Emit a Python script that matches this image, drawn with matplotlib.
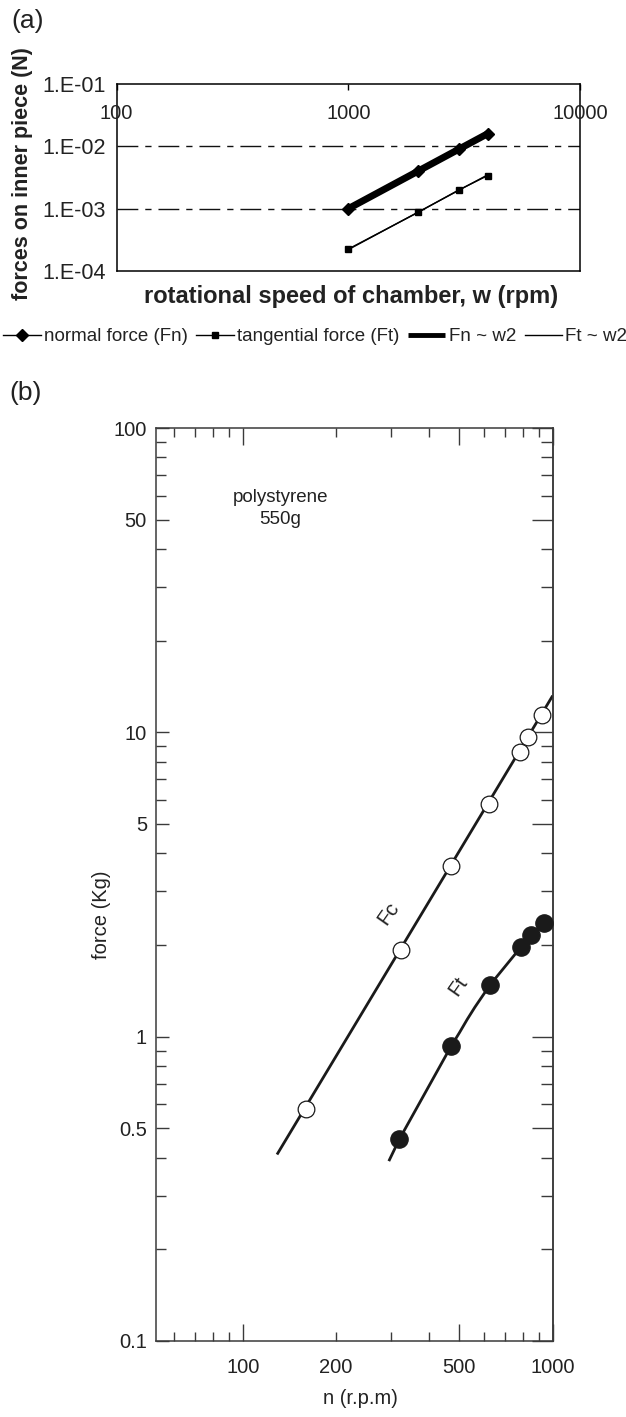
import matplotlib
matplotlib.use("Agg")
import matplotlib.pyplot as plt
from matplotlib.ticker import FixedLocator, FuncFormatter, NullLocator, NullFormatter

plt.rcParams["font.family"] = ["Liberation Sans", "DejaVu Sans"]

# ---------------- panel (a): forces vs chamber speed ----------------
w_rpm = [1000, 2000, 3000, 4000]
fn_measured = [1.0e-3, 4.0e-3, 9.0e-3, 1.6e-2]
ft_measured = [2.25e-4, 8.7e-4, 2.0e-3, 3.4e-3]
fn_fit = [1.0e-3, 4.0e-3, 9.0e-3, 1.6e-2]
ft_fit = [2.2e-4, 8.8e-4, 1.97e-3, 3.5e-3]
a_xticks = [100, 1000, 10000]
a_xtick_labels = ["100", "1000", "10000"]
a_yticks = [1e-4, 1e-3, 1e-2, 1e-1]
a_ytick_labels = ["1.E-04", "1.E-03", "1.E-02", "1.E-01"]
a_grid_levels = [1e-3, 1e-2]
a_legend = ["normal force (Fn)", "tangential force (Ft)", "Fn ~ w2", "Ft ~ w2"]

# ---------------- panel (b): polystyrene 550 g ----------------
fc_n = [160, 323, 470, 622, 785, 835, 922]
fc_force = [0.58, 1.93, 3.63, 5.83, 8.64, 9.66, 11.4]
ft_n = [320, 470, 628, 790, 850, 938]
ft_force = [0.46, 0.93, 1.48, 1.97, 2.16, 2.36]
fc_curve_n = [129, 1000]
fc_curve_force = [0.41, 13.2]
ft_curve_n = [296, 320, 470, 500, 530, 561, 628, 790, 850, 938]
ft_curve_force = [0.39, 0.46, 0.93, 1.03, 1.14, 1.25, 1.48, 1.97, 2.16, 2.36]
b_xticks_major = [100, 500, 1000]
b_xticks_minor = [60, 70, 80, 90, 200, 300, 400, 600, 700, 800, 900]
b_xtick_labels = {100: "100", 200: "200", 500: "500", 1000: "1000"}
b_yticks_major = [0.1, 0.5, 1, 5, 10, 50, 100]
b_ytick_labels = ["0.1", "0.5", "1", "5", "10", "50", "100"]
b_yticks_minor = [0.2, 0.3, 0.4, 0.6, 0.7, 0.8, 0.9, 2, 3, 4, 6, 7, 8, 9,
                  20, 30, 40, 60, 70, 80, 90]

W, H = 626, 1417
fig = plt.figure(figsize=(W / 100, H / 100), dpi=100)
ink = "#1a1a1a"
txt = "#222222"
frame = "#3a3a3a"


def fx(px):
    return px / W


def fy(py):
    return 1 - py / H


def pick_label(values, labels):
    def fmt(v, pos):
        i = min(range(len(values)), key=lambda k: abs(values[k] / v - 1))
        return labels[i]
    return FuncFormatter(fmt)


# ======================= panel (a) =======================
ax1 = fig.add_axes([fx(116.6), fy(271), (580 - 116.6) / W, (271 - 84) / H])
ax1.set_xscale("log")
ax1.set_yscale("log")
ax1.set_xlim(100, 10000)
ax1.set_ylim(1e-4, 1e-1)

for lvl in a_grid_levels:
    ax1.axhline(lvl, color="#111111", lw=1.0, linestyle=(0, (15, 5, 4.5, 5)), zorder=1)

l_fn, = ax1.plot(w_rpm, fn_measured, color="black", lw=1.0, marker="D", ms=6.5,
                 mfc="black", mec="black", zorder=3)
l_ft, = ax1.plot(w_rpm, ft_measured, color="black", lw=1.0, marker="s", ms=5,
                 mfc="black", mec="black", zorder=3)
l_fnfit, = ax1.plot(w_rpm, fn_fit, color="black", lw=5, solid_capstyle="butt", zorder=4)
l_ftfit, = ax1.plot(w_rpm, ft_fit, color="black", lw=1.0, zorder=4)

for s in ax1.spines.values():
    s.set_color("black")
    s.set_linewidth(1.1)

ax1.yaxis.set_major_locator(FixedLocator(a_yticks))
ax1.yaxis.set_major_formatter(pick_label(a_yticks, a_ytick_labels))
ax1.yaxis.set_minor_locator(NullLocator())
ax1.tick_params(axis="y", length=0, pad=8.0, labelsize=15.5, labelcolor=txt)

ax1.xaxis.set_major_locator(FixedLocator(a_xticks))
ax1.xaxis.set_minor_locator(NullLocator())
ax1.xaxis.set_ticks_position("top")
ax1.tick_params(axis="x", direction="in", length=4, width=1, labeltop=False,
                labelbottom=False)
for xv, lab in zip(a_xticks, a_xtick_labels):
    ax1.text(xv, 0.843, lab, transform=ax1.get_xaxis_transform(), ha="center",
             va="center", fontsize=14.5, color=txt)

fig.text(fx(351), fy(296.7), "rotational speed of chamber, w (rpm)", ha="center",
         va="center", fontsize=17, fontweight="bold", color=txt)
fig.text(fx(23), fy(173.4), "forces on inner piece (N)", ha="center", va="center",
         rotation=90, fontsize=15.5, fontweight="bold", color=txt)

leg = fig.legend([l_fn, l_ft, l_fnfit, l_ftfit], a_legend, ncol=4, frameon=False,
                 loc="center left", bbox_to_anchor=(fx(3), fy(336.7)),
                 bbox_transform=fig.transFigure, fontsize=13.5, handlelength=2.0,
                 handletextpad=0.18, columnspacing=0.45, borderpad=0,
                 borderaxespad=0, numpoints=1, labelcolor=txt)
leg.legend_handles[2].set_linewidth(3.5)

fig.text(fx(27.5), fy(21), "(a)", ha="center", va="center", fontsize=19, color=txt)
fig.text(fx(26), fy(393), "(b)", ha="center", va="center", fontsize=19, color=txt)

# ======================= panel (b) =======================
ax2 = fig.add_axes([fx(156), fy(1341), (552.7 - 156) / W, (1341 - 428) / H])
ax2.set_xscale("log")
ax2.set_yscale("log")
ax2.set_xlim(52.5, 1000)
ax2.set_ylim(0.1, 100)

ax2.plot(fc_curve_n, fc_curve_force, color=ink, lw=2.0, solid_capstyle="butt", zorder=2)
ax2.plot(ft_curve_n, ft_curve_force, color=ink, lw=2.0, solid_capstyle="butt", zorder=2)
ax2.plot(fc_n, fc_force, linestyle="none", marker="o", ms=12, mfc="white", mec=ink,
         mew=0.9, zorder=3, clip_on=False)
ax2.plot(ft_n, ft_force, linestyle="none", marker="o", ms=12.5, mfc=ink, mec=ink,
         mew=0.9, zorder=3, clip_on=False)

for s in ax2.spines.values():
    s.set_color(frame)
    s.set_linewidth(1.1)

ax2.xaxis.set_major_locator(FixedLocator(b_xticks_major))
ax2.xaxis.set_minor_locator(FixedLocator(b_xticks_minor))
ax2.xaxis.set_major_formatter(FuncFormatter(
    lambda v, p: b_xtick_labels.get(int(round(v)), "")))
ax2.xaxis.set_minor_formatter(FuncFormatter(
    lambda v, p: b_xtick_labels.get(int(round(v)), "")))
ax2.yaxis.set_major_locator(FixedLocator(b_yticks_major))
ax2.yaxis.set_major_formatter(pick_label(b_yticks_major, b_ytick_labels))
ax2.yaxis.set_minor_locator(FixedLocator(b_yticks_minor))
ax2.yaxis.set_minor_formatter(NullFormatter())

ax2.tick_params(which="both", direction="in", top=True, right=False, color=frame,
                width=1.0, labelsize=14.5, labelcolor=txt)
ax2.tick_params(axis="x", which="major", length=12, pad=12)
ax2.tick_params(axis="x", which="minor", length=6.8, pad=12)
ax2.tick_params(axis="y", which="major", length=9.5, pad=6.5)
ax2.tick_params(axis="y", which="minor", length=7)

# right-hand scale carries longer tick marks than the left one
rax = ax2.secondary_yaxis("right")
rax.yaxis.set_major_locator(FixedLocator(b_yticks_major))
rax.yaxis.set_minor_locator(FixedLocator(b_yticks_minor))
rax.yaxis.set_major_formatter(NullFormatter())
rax.yaxis.set_minor_formatter(NullFormatter())
rax.tick_params(which="both", direction="in", color=frame, width=1.0)
rax.tick_params(which="major", length=15)
rax.tick_params(which="minor", length=9)
rax.spines["right"].set_color(frame)
rax.spines["right"].set_linewidth(1.1)

ax2.text(132, 59, "polystyrene", ha="center", va="center", fontsize=13.5, color=txt)
ax2.text(132, 50, "550g", ha="center", va="center", fontsize=13.5, color=txt)
ax2.text(294, 2.54, "Fc", ha="center", va="center", rotation=55, fontsize=15, color=txt)
ax2.text(495, 1.46, "Ft", ha="center", va="center", rotation=55, fontsize=15, color=txt)

fig.text(fx(360), fy(1399), "n (r.p.m)", ha="center", va="center", fontsize=14.5,
         color=txt)
fig.text(fx(101.6), fy(915), "force (Kg)", ha="center", va="center", rotation=90,
         fontsize=14.5, color=txt)

fig.savefig("out.png", dpi=100, facecolor="white")
